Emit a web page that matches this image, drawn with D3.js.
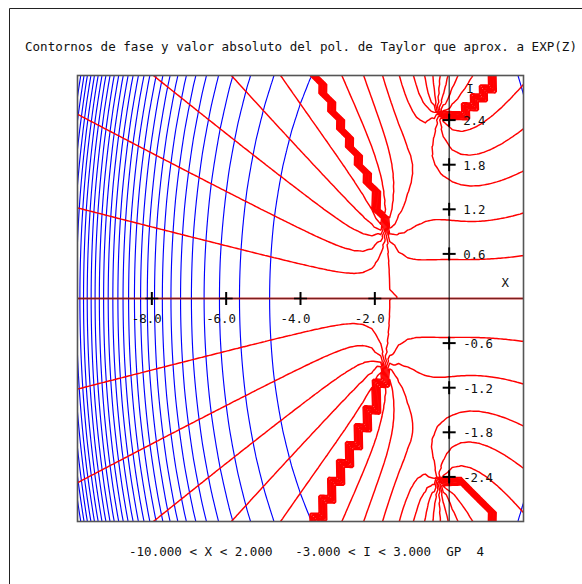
<!DOCTYPE html>
<html>
<head>
<meta charset="utf-8">
<script src="https://cdn.jsdelivr.net/npm/d3@7"></script>
<style>
  html, body { margin: 0; padding: 0; background: #ffffff; }
  svg { display: block; }
  text { font-family: "DejaVu Sans Mono", "Liberation Mono", monospace; fill: #111; white-space: pre; }
</style>
</head>
<body>
<script>
// Taylor polynomial of degree 4 for exp(z): coefficients of 1, z, z^2, z^3, z^4
const taylorCoefficients = [1, 1, 1 / 2, 1 / 6, 1 / 24];

// Region of the complex plane shown: real part (X) and imaginary part (I)
const xDomain = [-10, 2];
const yDomain = [-3, 3];

// Sampling grid (cells along X and along I)
const gridCells = [50, 50];

// Levels of |P(z)|
const modulusLevels = [
  11.8, 23.6, 35.4, 47.2, 59.0, 70.8, 82.6, 94.4, 106.2, 118.0,
  129.8, 141.6, 153.4, 165.2, 177.0, 188.8, 200.6, 212.4, 224.2, 236.0,
  247.8, 259.6, 271.4, 283.2, 295.0, 306.8, 318.6, 330.4, 342.2, 354.0
];

// Levels of arg P(z), in degrees
const phaseLevels = [-150, -120, -90, -60, -30, 0, 30, 60, 90, 120, 150];

// Axis ticks
const xTickValues = [-8, -6, -4, -2];
const xTickLabels = ["-8.0", "-6.0", "-4.0", "-2.0"];
const yTickValues = [2.4, 1.8, 1.2, 0.6, -0.6, -1.2, -1.8, -2.4];
const yTickLabels = ["2.4", "1.8", "1.2", "0.6", "-0.6", "-1.2", "-1.8", "-2.4"];

const titleText = "Contornos de fase y valor absoluto del pol. de Taylor que aprox. a EXP(Z)";
const rangeText = "-10.000 < X < 2.000   -3.000 < I < 3.000  GP  4";

const width = 582, height = 584;
const plot = { left: 77.5, right: 523.5, top: 75.5, bottom: 521.5 };

const svg = d3.select("body").append("svg")
  .attr("width", width).attr("height", height);

const xScale = d3.scaleLinear().domain(xDomain).range([plot.left, plot.right]);
const yScale = d3.scaleLinear().domain(yDomain).range([plot.bottom, plot.top]);

// Evaluate P at x + iy with Horner's scheme; returns [re, im]
function evalPoly(x, y) {
  let re = 0, im = 0;
  for (let k = taylorCoefficients.length - 1; k >= 0; k--) {
    const nr = re * x - im * y + taylorCoefficients[k];
    const ni = re * y + im * x;
    re = nr; im = ni;
  }
  return [re, im];
}

// Coarse grid, padded by one sample on every side so that the closing edges
// of the contour rings fall outside the clipped plot area. Row 0 is the top.
const [nx, ny] = gridCells;
const cols = nx + 3, rows = ny + 3;
const spanX = xDomain[1] - xDomain[0], spanY = yDomain[1] - yDomain[0];
const modulus = new Float64Array(cols * rows);
const phase = new Float64Array(cols * rows);
for (let j = 0; j < rows; j++) {
  const y = yDomain[1] - ((j - 1) * spanY) / ny;
  for (let i = 0; i < cols; i++) {
    const x = xDomain[0] + ((i - 1) * spanX) / nx;
    const [re, im] = evalPoly(x, y);
    modulus[j * cols + i] = Math.hypot(re, im);
    phase[j * cols + i] = Math.atan2(im, re) * 180 / Math.PI;
  }
}

// Each grid cell is split into two triangles along its top-left/bottom-right
// diagonal and the samples are interpolated linearly inside each triangle.
// The triangulated surface is resampled finely and handed to d3.contours.
const sub = 5;
const fcols = (cols - 1) * sub + 1, frows = (rows - 1) * sub + 1;
function triangulate(coarse) {
  const fine = new Float64Array(fcols * frows);
  for (let q = 0; q < frows; q++) {
    const j = Math.min(Math.floor(q / sub), rows - 2);
    const w = q / sub - j;
    for (let p = 0; p < fcols; p++) {
      const i = Math.min(Math.floor(p / sub), cols - 2);
      const u = p / sub - i;
      const tl = coarse[j * cols + i], tr = coarse[j * cols + i + 1];
      const bl = coarse[(j + 1) * cols + i], br = coarse[(j + 1) * cols + i + 1];
      fine[q * fcols + p] = u >= w
        ? tl + u * (tr - tl) + w * (br - tr)
        : tl + w * (bl - tl) + u * (br - bl);
    }
  }
  return fine;
}

// Fine-grid coordinates (sample k sits at k + 0.5) to pixels
const gx = d3.scaleLinear()
  .domain([sub + 0.5, sub * (nx + 1) + 0.5])
  .range([xScale(xDomain[0]), xScale(xDomain[1])]);
const gy = d3.scaleLinear()
  .domain([sub + 0.5, sub * (ny + 1) + 0.5])
  .range([yScale(yDomain[1]), yScale(yDomain[0])]);
const gridPath = d3.geoPath(d3.geoTransform({
  point(x, y) { this.stream.point(gx(x), gy(y)); }
}));

svg.append("defs").append("clipPath").attr("id", "plot-clip")
  .append("rect")
  .attr("x", plot.left).attr("y", plot.top)
  .attr("width", plot.right - plot.left).attr("height", plot.bottom - plot.top);

const field = svg.append("g").attr("clip-path", "url(#plot-clip)");

const contourGen = d3.contours().size([fcols, frows]);

field.append("g").attr("class", "modulus")
  .selectAll("path")
  .data(contourGen.thresholds(modulusLevels)(triangulate(modulus)))
  .join("path")
  .attr("d", gridPath)
  .attr("fill", "none")
  .attr("stroke", "#0000ff")
  .attr("stroke-width", 1.15);

field.append("g").attr("class", "phase")
  .selectAll("path")
  .data(contourGen.thresholds(phaseLevels)(triangulate(phase)))
  .join("path")
  .attr("d", gridPath)
  .attr("fill", "none")
  .attr("stroke", "#ff0000")
  .attr("stroke-width", 1.45)
  .attr("stroke-linejoin", "round");

// Axes through the origin
const axes = svg.append("g").attr("stroke", "#000");
axes.append("line")
  .attr("x1", plot.left).attr("x2", plot.right)
  .attr("y1", yScale(0)).attr("y2", yScale(0))
  .attr("stroke", "#7a1f1f").attr("stroke-width", 1.3);
axes.append("line")
  .attr("x1", xScale(0)).attr("x2", xScale(0))
  .attr("y1", plot.top).attr("y2", plot.bottom)
  .attr("stroke-width", 1);

// Cross-shaped tick marks
const tickHalf = 6.5;
axes.selectAll("line.xtick")
  .data(xTickValues)
  .join("line").attr("class", "xtick")
  .attr("x1", d => xScale(d)).attr("x2", d => xScale(d))
  .attr("y1", yScale(0) - tickHalf).attr("y2", yScale(0) + tickHalf)
  .attr("stroke-width", 2);
axes.selectAll("line.xtickh")
  .data(xTickValues)
  .join("line").attr("class", "xtickh")
  .attr("x1", d => xScale(d) - tickHalf).attr("x2", d => xScale(d) + tickHalf)
  .attr("y1", yScale(0)).attr("y2", yScale(0))
  .attr("stroke-width", 1.6);
axes.selectAll("line.ytick")
  .data(yTickValues)
  .join("line").attr("class", "ytick")
  .attr("x1", xScale(0) - tickHalf).attr("x2", xScale(0) + tickHalf)
  .attr("y1", d => yScale(d)).attr("y2", d => yScale(d))
  .attr("stroke-width", 2);
axes.selectAll("line.ytickv")
  .data(yTickValues)
  .join("line").attr("class", "ytickv")
  .attr("x1", xScale(0)).attr("x2", xScale(0))
  .attr("y1", d => yScale(d) - tickHalf).attr("y2", d => yScale(d) + tickHalf)
  .attr("stroke-width", 2);

const fontSize = 12.4;
svg.selectAll("text.xlabel")
  .data(xTickValues)
  .join("text").attr("class", "xlabel")
  .attr("x", d => xScale(d) - 20).attr("y", yScale(0) + 24)
  .attr("font-size", fontSize)
  .text((d, i) => xTickLabels[i]);
svg.selectAll("text.ylabel")
  .data(yTickValues)
  .join("text").attr("class", "ylabel")
  .attr("x", xScale(0) + 14).attr("y", d => yScale(d) + 5)
  .attr("font-size", fontSize)
  .text((d, i) => yTickLabels[i]);

svg.append("text").attr("x", xScale(0) + 17).attr("y", plot.top + 17)
  .attr("font-size", fontSize).text("I");
svg.append("text").attr("x", plot.right - 22).attr("y", yScale(0) - 12)
  .attr("font-size", fontSize).text("X");

// Plot frame
svg.append("rect")
  .attr("x", plot.left).attr("y", plot.top)
  .attr("width", plot.right - plot.left).attr("height", plot.bottom - plot.top)
  .attr("fill", "none").attr("stroke", "#555").attr("stroke-width", 1.6);

// Page frame
svg.append("path")
  .attr("d", `M9.5,${height} V8.5 H${width}`)
  .attr("fill", "none").attr("stroke", "#222").attr("stroke-width", 1);

svg.append("text")
  .attr("x", 25).attr("y", 51)
  .attr("font-size", fontSize)
  .attr("textLength", 552).attr("lengthAdjust", "spacingAndGlyphs")
  .text(titleText);

svg.append("text")
  .attr("x", 129).attr("y", 556)
  .attr("font-size", fontSize)
  .attr("textLength", 355).attr("lengthAdjust", "spacingAndGlyphs")
  .text(rangeText);
</script>
</body>
</html>
